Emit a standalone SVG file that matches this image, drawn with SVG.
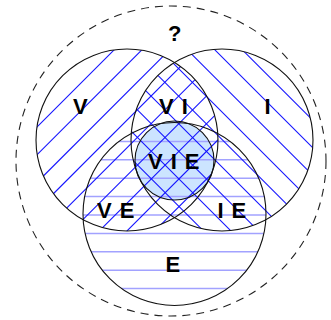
<svg xmlns="http://www.w3.org/2000/svg" width="331" height="320" viewBox="0 0 331 320">
<style>
.outline{fill:none;stroke:#111;stroke-width:1.1}
.dash{fill:none;stroke:#222;stroke-width:1.1;stroke-dasharray:8 6}
.diag{stroke:#1414ff;stroke-width:1.1}
.hor{stroke:#a2a2ff;stroke-width:1.5}
.lbl{font-family:"Liberation Sans",Arial,sans-serif;font-weight:bold;font-size:22px;fill:#000;letter-spacing:8px}
</style>
<defs>
<clipPath id="cV"><circle cx="127" cy="140" r="91"/></clipPath>
<clipPath id="cI"><circle cx="222" cy="140" r="91"/></clipPath>
<clipPath id="cE"><circle cx="174.5" cy="214" r="91.5"/></clipPath>
</defs>
<rect width="331" height="320" fill="#fff"/>
<g id="universe">
<circle class="dash" cx="171" cy="161" r="155"/>
<text class="lbl" x="168" y="41">?</text>
</g>
<g id="node-VIE-fill">
<circle cx="174.5" cy="160.5" r="39.5" fill="#cce4ff"/>
</g>
<g id="hatch-E" clip-path="url(#cE)">
<line class="hor" x1="70" y1="141.4" x2="280" y2="141.4"/>
<line class="hor" x1="70" y1="159.8" x2="280" y2="159.8"/>
<line class="hor" x1="70" y1="178.2" x2="280" y2="178.2"/>
<line class="hor" x1="70" y1="196.6" x2="280" y2="196.6"/>
<line class="hor" x1="70" y1="215" x2="280" y2="215"/>
<line class="hor" x1="70" y1="233.4" x2="280" y2="233.4"/>
<line class="hor" x1="70" y1="251.8" x2="280" y2="251.8"/>
<line class="hor" x1="70" y1="270.2" x2="280" y2="270.2"/>
<line class="hor" x1="70" y1="288.6" x2="280" y2="288.6"/>
</g>
<g id="hatch-V" clip-path="url(#cV)">
<line class="diag" x1="164" y1="0" x2="-156" y2="320"/>
<line class="diag" x1="191.7" y1="0" x2="-128.3" y2="320"/>
<line class="diag" x1="219.4" y1="0" x2="-100.6" y2="320"/>
<line class="diag" x1="247.1" y1="0" x2="-72.9" y2="320"/>
<line class="diag" x1="274.8" y1="0" x2="-45.2" y2="320"/>
<line class="diag" x1="302.5" y1="0" x2="-17.5" y2="320"/>
<line class="diag" x1="330.2" y1="0" x2="10.2" y2="320"/>
<line class="diag" x1="357.9" y1="0" x2="37.9" y2="320"/>
<line class="diag" x1="385.6" y1="0" x2="65.6" y2="320"/>
</g>
<g id="hatch-I" clip-path="url(#cI)">
<line class="diag" x1="192.5" y1="0" x2="512.5" y2="320"/>
<line class="diag" x1="165" y1="0" x2="485" y2="320"/>
<line class="diag" x1="137.5" y1="0" x2="457.5" y2="320"/>
<line class="diag" x1="110" y1="0" x2="430" y2="320"/>
<line class="diag" x1="82.5" y1="0" x2="402.5" y2="320"/>
<line class="diag" x1="55" y1="0" x2="375" y2="320"/>
<line class="diag" x1="27.5" y1="0" x2="347.5" y2="320"/>
<line class="diag" x1="0" y1="0" x2="320" y2="320"/>
<line class="diag" x1="-27.5" y1="0" x2="292.5" y2="320"/>
</g>
<g id="node-V">
<circle class="outline" cx="127" cy="140" r="91"/>
<text class="lbl" x="73" y="114">V</text>
</g>
<g id="node-I">
<circle class="outline" cx="222" cy="140" r="91"/>
<text class="lbl" x="264.5" y="114">I</text>
</g>
<g id="node-E">
<circle class="outline" cx="174.5" cy="214" r="91.5"/>
<text class="lbl" x="165.5" y="272">E</text>
</g>
<g id="node-VI">
<text class="lbl" x="159" y="114">VI</text>
</g>
<g id="node-VE">
<text class="lbl" x="97" y="218">VE</text>
</g>
<g id="node-IE">
<text class="lbl" x="217.5" y="218">IE</text>
</g>
<g id="node-VIE">
<circle class="outline" cx="174.5" cy="160.5" r="39.5"/>
<text class="lbl" x="148" y="168.5">VIE</text>
</g>
</svg>
